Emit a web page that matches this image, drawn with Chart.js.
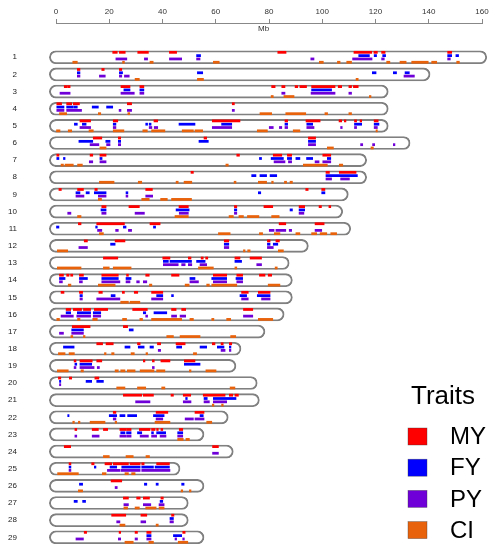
<!DOCTYPE html>
<html>
<head>
<meta charset="utf-8">
<title>QTL map</title>
<script src="https://cdn.jsdelivr.net/npm/chart.js@4.4.1/dist/chart.umd.min.js"></script>
<style>
  body { margin: 0; background: #fff; }
  canvas { display: block; }
</style>
</head>
<body>
<canvas id="qtl-chart" width="490" height="544"></canvas>
<script>
// chromosomes and their lengths in Mb
const chromosomes = ['1','2','3','4','5','6','7','8','9','10','11','12','13','14','15',
    '16','17','18','19','20','21','22','23','24','25','26','27','28','29'];
const chromLengths = [159.3, 138, 122.3, 122.3, 122.3, 130.5, 114.2, 114.2, 107.3, 105.2,
    108.2, 92.3, 85.1, 86.3, 86.3, 83.2, 76, 67, 65.1, 73.1, 73.9, 62.2, 53.1, 64.1, 44.1,
    53.1, 47.2, 47.2, 53.1];
const mbTicks = [0, 20, 40, 60, 80, 100, 120, 140, 160];

const traitNames = ['MY', 'FY', 'PY', 'CI'];

// QTL regions [start, end] in Mb, one list per chromosome
const myQtl = [
    [[21.3,23.0],[23.8,26.0],[30.7,34.7],[42.6,45.3],[83.3,86.4],[111.9,118.6],[119.4,120.7],[122.3,123.6],[147.1,148.6]],
    [[8.0,9.0],[17.2,18.1],[23.8,24.7]],
    [[3.1,4.2],[4.4,5.3],[24.4,27.8],[31.5,33.0],[81.0,82.3],[84.8,86.0],[89.8,90.8],[91.6,94.1],[96.0,104.8],[106.0,107.3],[110.0,111.0],[111.7,113.5]],
    [[0.3,2.1],[4.0,5.9],[6.5,8.8],[26.8,28.4],[66.2,67.0]],
    [[9.0,13.0],[21.5,23.2],[36.8,38.2],[58.7,69.1],[86.0,87.0],[93.9,99.2],[106.3,107.3],[108.3,108.9],[112.1,112.9],[114.2,114.8],[119.5,121.0]],
    [[14.0,17.2],[23.4,24.3],[55.6,56.6],[94.8,97.5]],
    [[0.3,1.1],[12.8,13.8],[16.5,18.8],[67.9,68.9],[81.6,84.8],[86.9,88.5],[100.2,103.2]],
    [[50.7,51.6],[101.4,102.7],[106.4,112.7]],
    [[1.1,2.0],[8.1,10.3],[14.6,15.5],[33.7,36.2],[93.8,94.7],[99.8,101.0]],
    [[17.2,18.8],[27.4,31.3],[46.2,49.7],[67.0,67.9],[78.1,81.4],[91.3,93.4],[98.8,99.7],[102.5,103.2]],
    [[8.4,9.4],[15.3,25.7],[35.3,39.1],[83.8,86.3],[97.3,100.7]],
    [[10.6,11.8],[22.2,25.9],[63.2,64.9],[79.4,80.4],[82.6,83.9]],
    [[17.8,23.2],[40.1,42.8],[49.7,50.7],[54.5,55.3],[56.2,57.0],[67.2,69.1],[72.9,77.2]],
    [[1.3,2.8],[4.0,4.9],[5.5,6.3],[8.8,10.3],[17.2,23.4],[26.5,27.2],[33.7,35.0],[43.4,46.2],[59.1,64.1],[67.9,70.1],[76.4,78.5],[79.7,81.0]],
    [[1.9,3.0],[8.8,10.0],[16.1,17.4],[24.9,25.7],[29.4,30.7],[35.9,40.1],[69.7,72.2],[76.0,80.4]],
    [[3.8,5.5],[6.5,9.6],[10.3,13.0],[14.4,19.4],[28.8,34.3],[43.4,45.1],[47.2,48.7],[70.4,73.9]],
    [[6.1,12.8],[25.3,26.9]],
    [[15.3,17.5],[18.8,21.5],[30.6,31.6],[38.1,39.3],[45.1,48.5],[58.7,59.7],[62.0,62.8],[65.1,66.0]],
    [[6.8,7.5],[9.0,13.6],[15.3,17.2],[32.8,33.4],[36.2,36.9],[39.4,42.8],[48.2,52.2]],
    [[0.9,1.8],[5.0,5.9],[14.6,16.1]],
    [[25.3,32.2],[32.8,36.6],[43.2,44.1],[47.8,50.6],[55.3,63.5],[65.1,66.4],[67.2,68.5]],
    [[21.5,22.5],[37.6,42.0],[52.2,55.6]],
    [[7.1,7.8],[13.6,15.9],[17.8,19.4],[24.0,26.3],[26.5,28.2],[31.3,35.3],[35.9,37.2],[37.8,38.4],[39.4,40.1],[46.3,47.6]],
    [[3.1,5.5],[58.8,61.0]],
    [[4.9,5.6],[13.4,14.3],[18.4,20.9],[21.5,27.2],[27.8,31.6],[32.2,33.1],[37.8,42.6]],
    [[20.7,24.7]],
    [[25.3,27.2],[30.3,31.6],[32.8,35.1],[39.4,40.3]],
    [[20.9,26.2],[31.9,34.1],[43.4,44.3]],
    [[10.6,11.5],[23.7,24.3],[29.7,30.6],[34.1,35.7],[47.6,48.5]]
];

const fyQtl = [
    [[52.8,54.3],[113.7,117.7],[119.5,120.4],[122.7,123.8],[147.1,148.6],[150.2,151.2]],
    [[8.0,9.0],[23.8,25.0],[53.1,55.1],[118.8,120.2],[126.7,127.9],[131.1,132.7]],
    [[25.5,27.8],[31.5,33.0],[96.0,103.5]],
    [[0.3,3.0],[4.0,6.3],[6.6,8.0],[13.6,15.9],[19.0,21.3]],
    [[6.9,8.0],[9.9,11.3],[21.5,22.5],[33.7,34.4],[35.0,35.7],[46.2,52.2],[62.2,66.0],[86.0,87.0],[94.2,96.4],[112.1,114.8],[119.5,121.3]],
    [[8.6,13.8],[18.7,20.3],[23.4,24.3],[53.7,57.2],[94.8,97.5]],
    [[0.3,1.1],[2.8,3.4],[16.5,17.3],[76.4,77.2],[80.8,85.4],[86.9,88.5],[90.1,91.6],[94.1,96.4],[101.9,103.2]],
    [[73.5,75.1],[76.6,79.1],[80.4,82.9],[101.4,113.2]],
    [[7.5,9.0],[11.3,12.5],[14.4,18.8],[26.3,27.0],[76.0,76.9],[99.8,101.0]],
    [[16.9,18.8],[45.1,50.0],[67.0,67.9],[87.9,88.8],[91.3,93.4]],
    [[0.0,1.1],[14.9,15.5],[25.3,26.3],[36.6,37.4]],
    [[20.5,22.2],[63.2,64.9],[79.4,80.4],[81.6,83.3]],
    [[40.3,42.2],[42.8,50.9],[52.8,56.0],[67.2,69.7]],
    [[1.3,3.4],[8.8,11.8],[17.2,23.4],[26.3,28.2],[50.3,52.2],[58.5,64.1],[67.6,70.1]],
    [[9.0,9.9],[20.7,22.2],[37.8,40.1],[43.4,44.1],[69.1,71.6],[75.6,80.4]],
    [[3.8,5.5],[8.0,13.0],[14.0,16.8],[32.8,33.7],[36.8,41.6]],
    [[5.9,10.3],[27.5,29.0]],
    [[2.8,6.8],[25.9,27.8],[30.9,33.1],[35.3,36.6],[45.3,47.2],[54.1,56.6],[60.6,63.1],[65.1,65.7]],
    [[7.1,7.8],[9.0,13.4],[48.2,54.1]],
    [[1.3,1.8],[11.3,13.4],[15.3,17.8]],
    [[48.7,49.3],[55.6,56.8],[59.1,67.6]],
    [[4.4,4.9],[20.0,22.8],[24.0,25.9],[26.9,30.3],[36.6,40.6],[54.1,55.3]],
    [[24.3,25.9],[26.5,28.2],[30.6,32.2],[35.9,36.6],[37.8,41.2],[45.7,47.6]],
    [],
    [[4.9,5.6],[14.4,15.0],[20.3,22.8],[24.7,31.6],[32.2,36.6],[37.2,42.6]],
    [[8.8,10.0],[33.2,34.1],[37.6,38.4],[47.2,48.1]],
    [[6.8,8.0],[10.0,11.1],[39.1,40.1]],
    [[42.8,44.1]],
    [[34.1,35.7],[44.1,47.2]]
];

const pyQtl = [
    [[22.5,26.6],[33.2,34.4],[42.6,47.2],[52.8,54.1],[95.7,96.9],[111.4,118.7],[122.3,123.3],[147.1,148.1]],
    [[8.0,9.0],[16.3,18.5],[23.8,24.7],[25.7,27.5],[130.7,134.6]],
    [[1.5,5.3],[24.4,29.4],[31.5,33.0],[84.8,86.0],[95.8,104.8],[110.0,111.0]],
    [[0.3,3.0],[4.0,9.6],[23.7,24.4],[26.8,28.4],[66.2,67.0]],
    [[9.0,13.0],[21.5,22.5],[35.0,36.0],[36.9,38.2],[58.7,66.0],[80.1,81.6],[83.9,84.8],[86.0,87.0],[94.2,96.9],[106.9,107.5],[112.1,112.9],[119.5,120.7]],
    [[12.8,16.1],[19.0,20.3],[23.4,24.3],[94.8,97.5],[114.4,115.2],[118.9,119.7],[126.7,127.3]],
    [[12.5,13.8],[16.5,18.8],[81.9,86.0],[87.3,88.5],[97.3,98.8],[100.2,103.2]],
    [[101.4,103.5],[106.9,110.2]],
    [[7.5,10.5],[15.9,18.8],[26.3,27.0],[33.7,36.3]],
    [[4.4,5.6],[17.2,18.8],[29.7,33.2],[46.3,49.7],[67.0,67.9],[91.3,93.1]],
    [[15.6,17.2],[22.4,23.4],[27.2,28.4],[80.1,81.9],[82.6,86.3],[87.6,88.5],[97.3,99.8]],
    [[8.6,11.8],[63.2,64.9],[79.4,81.6]],
    [[40.3,45.9],[47.2,48.5],[49.7,51.0],[54.1,56.6],[75.4,77.2]],
    [[1.3,2.4],[8.8,9.9],[17.2,24.0],[26.3,27.8],[30.3,31.3],[32.8,34.1],[50.3,53.5],[59.1,64.1],[67.9,70.1]],
    [[9.0,9.9],[15.3,24.0],[35.9,40.1],[69.7,72.2],[77.2,80.4]],
    [[1.9,6.5],[7.8,13.0],[14.0,16.8],[33.7,34.4],[43.4,45.3],[46.6,48.7],[70.4,73.9]],
    [[1.3,2.8],[5.9,10.3]],
    [[38.4,39.3],[62.0,63.5],[65.1,65.7]],
    [[6.8,7.5],[9.0,14.3],[15.5,16.3],[36.2,36.9]],
    [[1.3,1.8]],
    [[29.9,35.3],[47.8,50.7],[55.6,57.6],[59.1,64.1]],
    [[21.5,22.5],[37.6,40.1],[48.5,51.6],[52.2,55.6]],
    [[7.1,7.8],[13.6,16.2],[24.0,26.2],[26.5,28.2],[31.6,34.7],[35.9,37.8],[39.1,41.3],[45.7,47.6]],
    [[58.8,61.0]],
    [[4.9,5.6],[19.3,24.0],[24.4,31.6],[32.2,42.8]],
    [[22.2,23.0]],
    [[25.5,27.2],[32.8,35.6],[38.7,40.6]],
    [[22.8,24.0],[31.9,33.7],[42.8,44.1]],
    [[7.5,10.3],[23.4,24.3],[29.7,30.6],[34.1,35.7],[44.7,45.3],[47.6,48.2]]
];

const ciQtl = [
    [[6.3,8.0],[25.0,25.7],[35.3,36.5],[59.1,61.3],[98.9,100.4],[105.7,106.7],[109.2,111.0],[124.2,125.4],[129.2,131.5],[133.6,139.8],[141.1,143.0],[150.5,151.5]],
    [[29.7,31.3],[53.1,55.4],[112.7,113.5]],
    [[80.8,81.6],[85.6,89.4],[117.7,118.3]],
    [[1.3,4.0],[15.9,16.8],[27.0,27.7],[76.6,81.0],[86.3,93.8],[101.0,102.0],[110.0,111.0]],
    [[0,1.5],[4.6,5.9],[12.4,14.0],[21.5,25.5],[32.6,34.3],[35.9,40.9],[47.4,51.6],[52.2,55.1],[75.6,79.4],[89.1,91.6],[120.2,120.7]],
    [[16.5,18.8],[101.9,104.2],[118.3,119.2]],
    [[1.9,2.8],[3.4,6.5],[8.1,9.9],[63.8,64.7],[92.9,101.9],[106.4,107.7]],
    [[16.3,21.8],[30.9,32.2],[45.1,45.9],[48.1,51.0],[66.9,67.6],[76.0,79.1],[81.0,81.6],[85.8,86.6],[87.9,88.8]],
    [[15.9,17.1],[32.2,35.0],[39.3,41.8],[43.4,50.9]],
    [[8.1,9.4],[44.7,49.7],[65.0,66.6],[68.7,70.4],[71.9,76.2],[81.0,83.8]],
    [[16.3,17.8],[61.0,65.4],[76.4,77.6],[82.0,84.1],[90.1,91.6],[96.0,97.9],[99.2,101.7],[103.2,105.4]],
    [[0.5,4.4],[70.4,71.0],[72.0,72.9],[83.5,85.4]],
    [[0.5,9.4],[17.8,20.0],[21.5,28.2],[53.5,59.1],[67.2,67.9],[82.3,83.1]],
    [[4.6,5.6],[15.9,22.2],[35.1,36.0],[48.5,50.0],[56.6,57.6],[58.5,67.9],[79.7,84.1]],
    [[24.3,27.2],[27.8,31.5]],
    [[0.3,1.3],[8.1,9.0],[13.8,15.5],[25.0,26.5],[31.5,32.5],[35.9,47.2],[50.3,51.6],[58.5,59.3],[64.1,65.6],[76.0,81.4]],
    [[5.6,6.3],[10.3,10.9],[41.6,44.1],[46.6,54.1],[65.6,67.5]],
    [[0.9,3.4],[4.9,6.9],[18.2,18.8],[20.9,21.8],[28.2,29.4],[33.8,34.4],[51.6,52.8]],
    [[0.5,4.6],[9.4,10.3],[22.2,23.4],[24.3,25.9],[26.8,29.7],[31.6,36.8],[37.8,40.9],[50.1,50.7],[56.3,60.1]],
    [[22.8,25.9],[30.6,33.7],[39.7,40.9],[65.4,67.2]],
    [[58.7,59.3],[62.2,62.8]],
    [[6.3,6.9],[8.4,9.0],[12.8,18.4],[22.2,22.8],[37.2,42.8],[56.6,58.5]],
    [[45.7,47.8],[48.8,50.1]],
    [[17.8,20.0],[26.3,29.0],[33.8,35.1]],
    [[0.6,8.4],[17.4,18.8],[25.9,27.2],[28.4,29.7]],
    [[8.4,10.0],[47.0,47.6],[50.1,50.7]],
    [[25.5,26.9],[29.7,31.3],[33.7,37.6],[38.7,40.6]],
    [[24.0,25.9],[37.6,38.4]],
    [[25.9,29.0],[34.9,36.6],[45.9,49.5]]
];

// styling
const traitColors = ['#ff0000', '#0000ff', '#7000d8', '#e8620c'];
const laneOffsets = [-0.29, -0.097, 0.097, 0.29];   // row units, top to bottom
const endPad = 2.5;                                  // Mb of rounded cap on each side

const fontFamily = '"Liberation Sans", Arial, sans-serif';

function laneData(qtl, offset) {
    const pts = [];
    qtl.forEach((segs, i) => {
        segs.forEach(s => pts.push({ x: s, y: i + 1 + offset }));
    });
    return pts;
}

const traitSets = [myQtl, fyQtl, pyQtl, ciQtl].map((qtl, t) => ({
    label: traitNames[t],
    data: laneData(qtl, laneOffsets[t]),
    backgroundColor: traitColors[t],
    borderWidth: 0,
    barThickness: 2.1,
    clip: false,
    order: 0
}));

const chromSet = {
    label: 'chromosome',
    data: chromLengths.map((len, i) => ({ x: [-endPad, len + endPad], y: i + 1 })),
    backgroundColor: 'rgba(0,0,0,0)',
    borderColor: '#808080',
    borderWidth: 1.2,
    borderSkipped: false,
    borderRadius: 7,
    barThickness: 13,
    clip: false,
    order: 5
};

// "Mb" caption under the axis line and the trait legend
const extrasPlugin = {
    id: 'extras',
    afterDraw(chart) {
        const ctx = chart.ctx;
        const x = chart.scales.x;
        ctx.save();
        ctx.fillStyle = '#333';
        ctx.font = '8px ' + fontFamily;
        ctx.textAlign = 'center';
        ctx.textBaseline = 'middle';
        ctx.fillText('Mb', x.getPixelForValue(78), chart.chartArea.top + 5.5);

        ctx.fillStyle = '#000';
        ctx.textAlign = 'left';
        ctx.font = '26px ' + fontFamily;
        ctx.fillText('Traits', 411, 397);

        ctx.font = '24px ' + fontFamily;
        traitNames.forEach((name, t) => {
            const cy = 436.5 + t * 31.2;
            ctx.fillStyle = traitColors[t];
            ctx.fillRect(408, cy - 8.5, 19, 17);
            ctx.strokeStyle = 'rgba(60,60,60,0.6)';
            ctx.lineWidth = 0.6;
            ctx.strokeRect(408, cy - 8.5, 19, 17);
            ctx.fillStyle = '#000';
            ctx.fillText(name, 450, cy + 1);
        });
        ctx.restore();
    }
};

const chart = new Chart(document.getElementById('qtl-chart'), {
    type: 'bar',
    data: { datasets: [...traitSets, chromSet] },
    options: {
        indexAxis: 'y',
        responsive: false,
        animation: false,
        grouped: false,
        layout: { autoPadding: false, padding: { left: 0, right: 8, top: 0, bottom: 0 } },
        plugins: {
            legend: { display: false },
            tooltip: { enabled: false }
        },
        scales: {
            x: {
                type: 'linear',
                position: 'top',
                min: 0,
                max: 160,
                offset: false,
                afterFit: s => { s.height = 23; s.paddingLeft = 0; s.paddingRight = 0; },
                afterBuildTicks: s => { s.ticks = mbTicks.map(v => ({ value: v })); },
                ticks: {
                    color: '#333',
                    padding: 2.5,
                    font: { size: 8, family: fontFamily }
                },
                grid: { drawOnChartArea: false, tickLength: 4, color: '#888' },
                border: { color: '#888', width: 1 }
            },
            y: {
                type: 'linear',
                reverse: true,
                min: -1.0,
                max: 29.39,
                offset: false,
                afterFit: s => { s.width = 56; s.paddingTop = 0; s.paddingBottom = 0; },
                afterBuildTicks: s => { s.ticks = chromosomes.map((c, i) => ({ value: i + 1 })); },
                ticks: {
                    autoSkip: false,
                    color: '#222',
                    padding: 31,
                    font: { size: 8, family: fontFamily },
                    callback: v => chromosomes[v - 1]
                },
                grid: { display: false, offset: false },
                border: { display: false }
            }
        }
    },
    plugins: [extrasPlugin]
});
</script>
</body>
</html>
